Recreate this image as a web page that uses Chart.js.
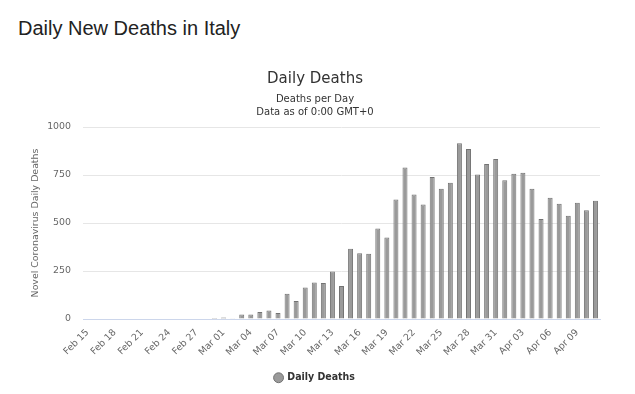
<!DOCTYPE html>
<html>
<head>
<meta charset="utf-8">
<script src="https://cdn.jsdelivr.net/npm/chart.js@4.4.1/dist/chart.umd.min.js"></script>
<style>
  html, body { margin: 0; padding: 0; background: #fff; }
  #wrap { position: relative; width: 635px; height: 394px; }
  #mainTitle { position: absolute; left: 18px; top: 16px; margin: 0; font-family: "Liberation Sans", Arial, sans-serif; font-weight: normal; font-size: 20px; line-height: 24px; color: #222; }
  #c { position: absolute; left: 0; top: 0; }
</style>
</head>
<body>
<div id="wrap">
  <h1 id="mainTitle">Daily New Deaths in Italy</h1>
  <canvas id="c" width="635" height="394"></canvas>
</div>
<script>
const categories = [
  "Feb 15","Feb 16","Feb 17","Feb 18","Feb 19","Feb 20","Feb 21","Feb 22","Feb 23","Feb 24",
  "Feb 25","Feb 26","Feb 27","Feb 28","Feb 29","Mar 01","Mar 02","Mar 03","Mar 04","Mar 05",
  "Mar 06","Mar 07","Mar 08","Mar 09","Mar 10","Mar 11","Mar 12","Mar 13","Mar 14","Mar 15",
  "Mar 16","Mar 17","Mar 18","Mar 19","Mar 20","Mar 21","Mar 22","Mar 23","Mar 24","Mar 25",
  "Mar 26","Mar 27","Mar 28","Mar 29","Mar 30","Mar 31","Apr 01","Apr 02","Apr 03","Apr 04",
  "Apr 05","Apr 06","Apr 07","Apr 08","Apr 09","Apr 10","Apr 11"
];
const dailyDeaths = [
  0,0,0,0,0,0,0,0,0,0,
  0,0,0,0,5,8,4,23,24,36,
  44,31,131,94,164,190,188,247,172,366,
  343,340,472,424,622,789,648,596,740,679,
  710,916,885,753,807,833,723,757,762,678,
  521,631,600,538,605,566,616
];
const yTicks = [0, 250, 500, 750, 1000];
const seriesName = "Daily Deaths";
const chartTitle = "Daily Deaths";
const chartSubtitle = ["Deaths per Day", "Data as of 0:00 GMT+0"];
const yAxisTitle = "Novel Coronavirus Daily Deaths";

const FONT = "'DejaVu Sans', 'Lucida Grande', sans-serif";

new Chart(document.getElementById('c'), {
  type: 'bar',
  data: {
    labels: categories,
    datasets: [{
      label: seriesName,
      data: dailyDeaths,
      backgroundColor: '#9a9a9a',
      borderColor: '#737373',
      borderWidth: 1,
      borderSkipped: 'bottom',
      barPercentage: 0.55,
      categoryPercentage: 1.0
    }]
  },
  options: {
    responsive: false,
    animation: false,
    layout: { padding: { top: 70.5, left: 30, right: 35, bottom: 1 } },
    plugins: {
      title: {
        display: true,
        text: chartTitle,
        color: '#333',
        font: { family: FONT, size: 15, weight: 'normal', lineHeight: 1.2 },
        padding: { top: 0, bottom: 4.5 }
      },
      subtitle: {
        display: true,
        text: chartSubtitle,
        color: '#333',
        font: { family: FONT, size: 10, weight: 'normal', lineHeight: 1.3 },
        padding: { top: 0, bottom: 8 }
      },
      legend: {
        position: 'bottom',
        labels: {
          usePointStyle: true,
          pointStyle: 'circle',
          boxWidth: 7,
          boxHeight: 7,
          padding: 10,
          color: '#333',
          font: { family: "'DejaVu Sans Condensed', 'DejaVu Sans', sans-serif", size: 10.5, weight: 'bold' }
        }
      },
      tooltip: { enabled: false }
    },
    scales: {
      x: {
        grid: { display: false, drawTicks: false },
        border: { color: '#ccd6eb', width: 1 },
        afterFit: function(axis) { axis.height = 43.5; axis.paddingLeft = 0; axis.paddingRight = 0; },
        ticks: {
          autoSkip: false,
          minRotation: 45,
          maxRotation: 45,
          padding: 8,
          color: '#666',
          font: { family: FONT, size: 9.4 },
          callback: function(v, i) { return i % 3 === 0 ? categories[i] : ''; }
        }
      },
      y: {
        min: 0,
        max: 1000,
        afterBuildTicks: function(axis) { axis.ticks = yTicks.map(v => ({ value: v })); },
        afterFit: function(axis) { axis.width = 53; },
        grid: { color: '#e6e6e6', drawTicks: false },
        border: { display: false },
        ticks: {
          padding: 12,
          color: '#666',
          font: { family: FONT, size: 9.4 },
          callback: function(v) { return String(v); }
        },
        title: {
          display: true,
          text: yAxisTitle,
          color: '#666',
          font: { family: FONT, size: 9.4, lineHeight: 1.2 },
          padding: { top: 0, bottom: 5.5 }
        }
      }
    }
  }
});
</script>
</body>
</html>
